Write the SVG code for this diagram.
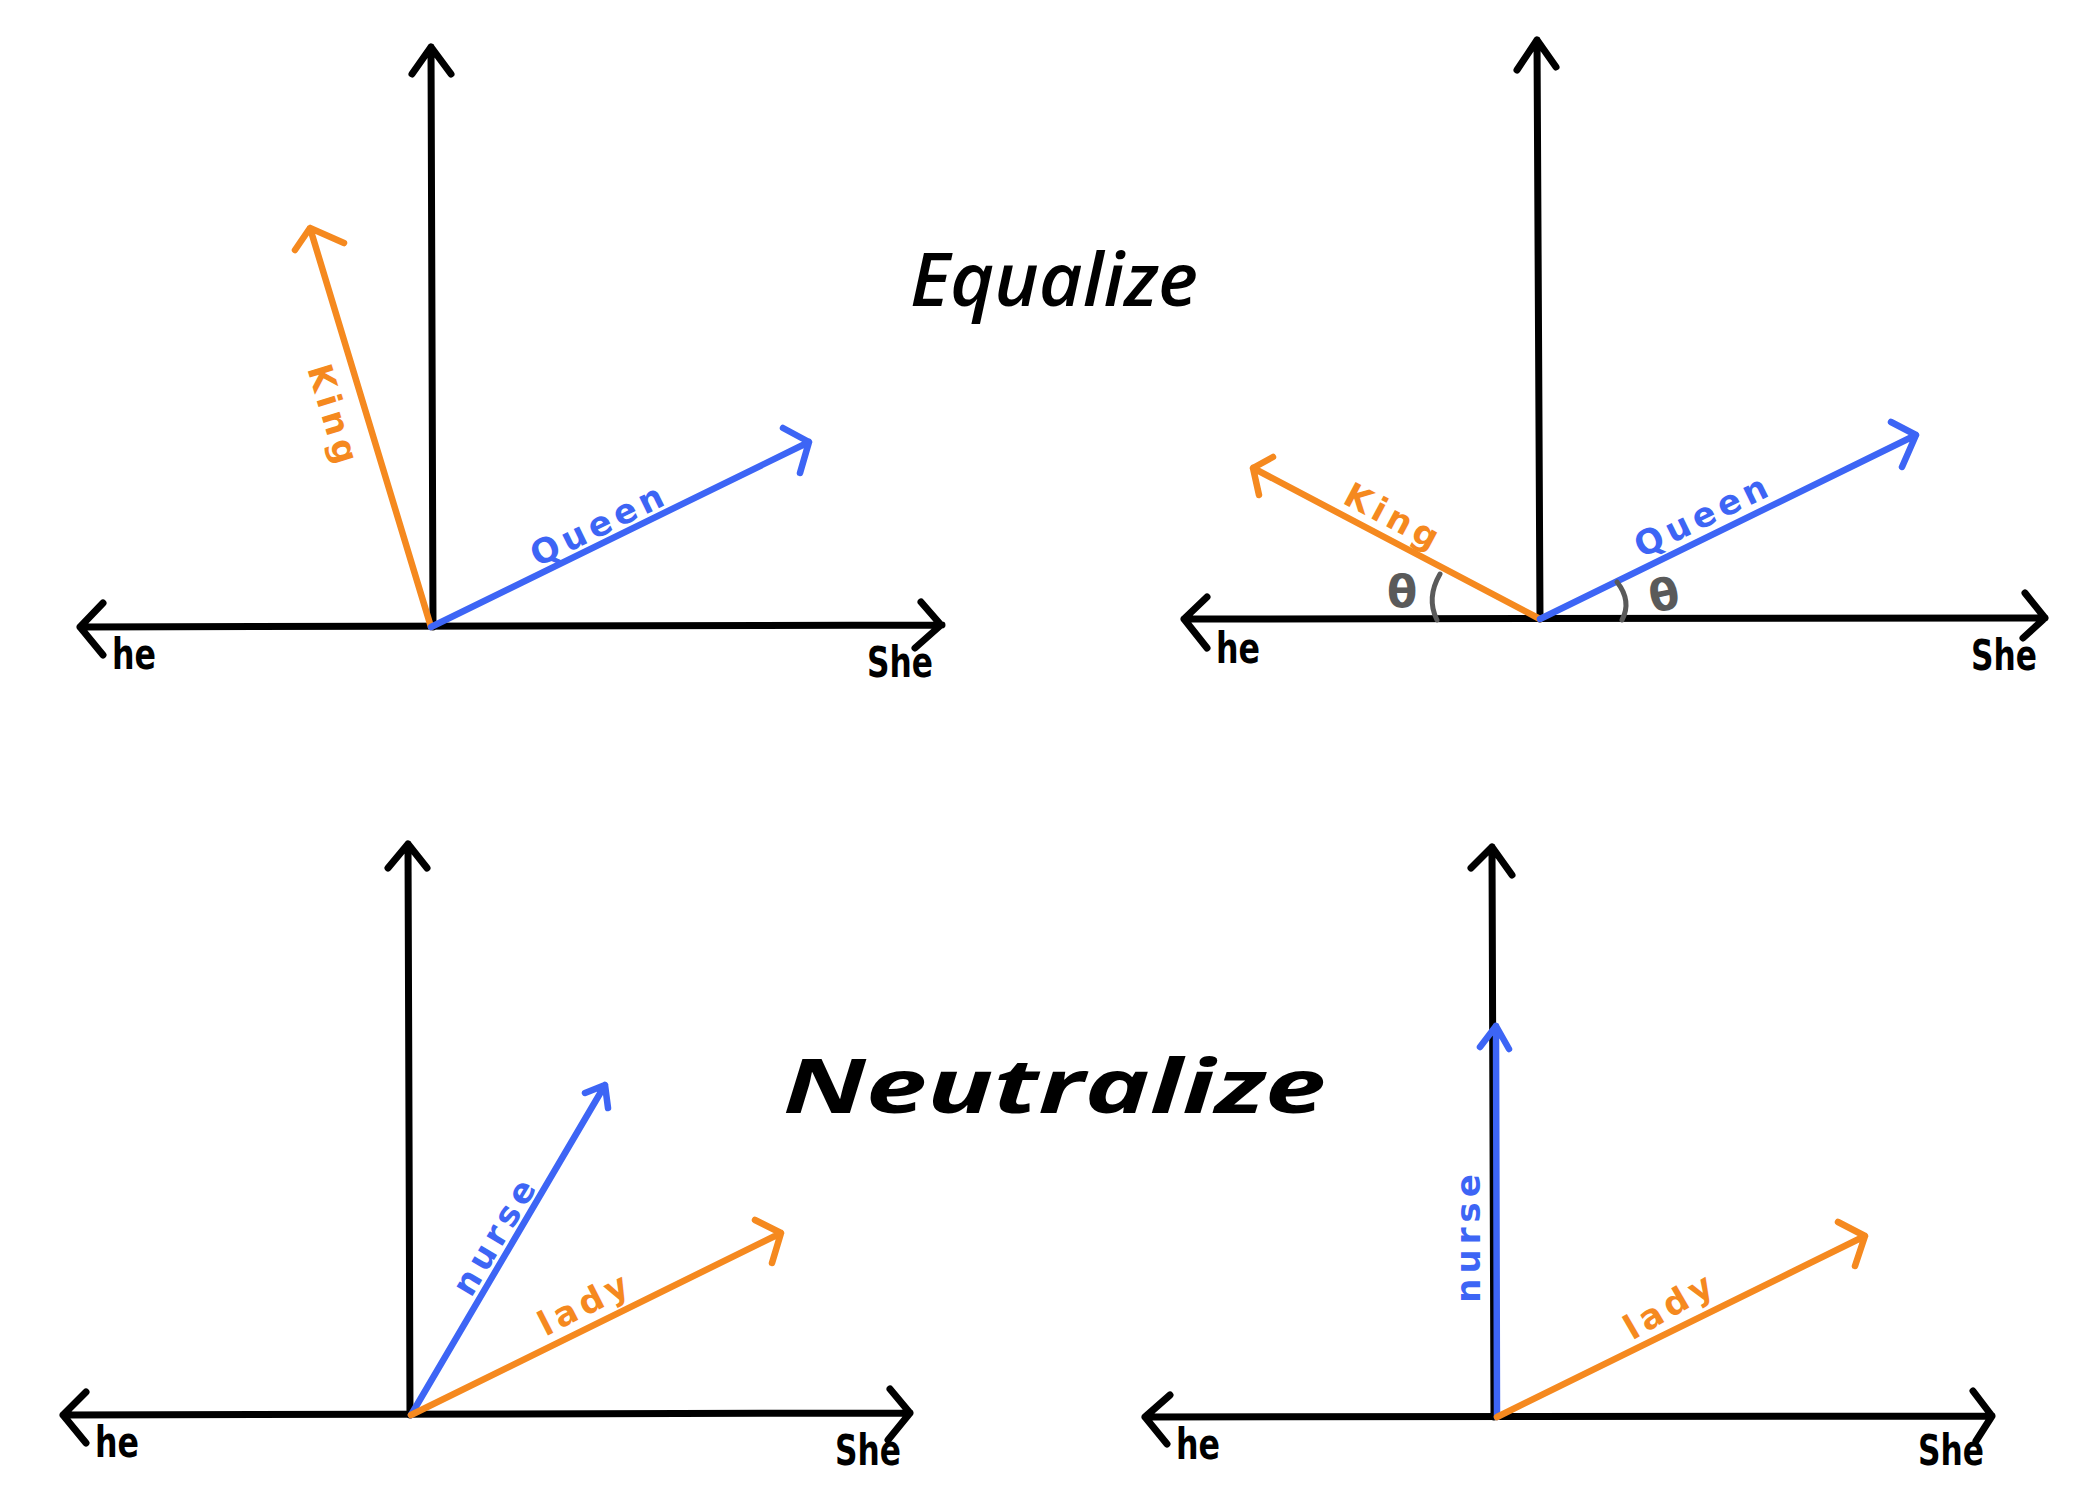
<svg xmlns="http://www.w3.org/2000/svg" width="2100" height="1500" viewBox="0 0 2100 1500">
<style>
.ax{fill:none;stroke:#000;stroke-width:7;stroke-linecap:round;stroke-linejoin:round}
.or{fill:none;stroke:#F5891F;stroke-width:6.5;stroke-linecap:round;stroke-linejoin:round}
.bl{fill:none;stroke:#3D65F5;stroke-width:6.5;stroke-linecap:round;stroke-linejoin:round}
.arc{fill:none;stroke:#5A5A5A;stroke-width:5;stroke-linecap:round}
.lab{font-family:"DejaVu Sans",sans-serif;font-weight:bold;font-size:34px;letter-spacing:5px;text-anchor:middle;dominant-baseline:central}
.lo{fill:#F5891F}
.lb{fill:#3D65F5}
.hs{font-family:"DejaVu Sans",sans-serif;font-weight:bold;font-size:42px;fill:#000}
.th{font-family:"DejaVu Sans",sans-serif;font-weight:bold;font-size:44px;fill:#5A5A5A;text-anchor:middle;dominant-baseline:central}
.title{font-family:"Open Sans","Noto Sans",sans-serif;font-style:italic;fill:#000}
</style>
<rect width="2100" height="1500" fill="#fff"/>

<g id="title-equalize"><text class="title" x="910" y="306" font-size="74" font-weight="600" textLength="288" lengthAdjust="spacingAndGlyphs">Equalize</text></g>
<g id="title-neutralize"><text class="title" x="783" y="1113" font-size="76" font-weight="bold" textLength="543" lengthAdjust="spacingAndGlyphs">Neutralize</text></g>

<g id="connectors">
  <!-- top-left -->
  <g id="tl-axes">
    <path class="ax" d="M80,627 L942,625 M103,603 L80,627 L103,655 M921,602 L941,625 L915,648"/>
    <path class="ax" d="M433,627 L431,47 M412,74 L431,47 L451,74"/>
  </g>
  <path id="tl-king" class="or" d="M431,627 L310,228 M295,250 L310,228 L344,243"/>
  <path id="tl-queen" class="bl" d="M431,627 L809,442 M783,428 L809,442 L800,473"/>
  <!-- top-right -->
  <g id="tr-axes">
    <path class="ax" d="M1184,619 L2045,618 M1207,597 L1184,619 L1207,648 M2025,593 L2045,618 L2023,638"/>
    <path class="ax" d="M1540,619 L1537,40 M1517,70 L1537,40 L1556,67"/>
  </g>
  <path id="tr-king" class="or" d="M1540,619 L1253,468 M1273,457 L1253,468 L1259,495"/>
  <path id="tr-queen" class="bl" d="M1540,619 L1916,435 M1891,422 L1916,435 L1902,467"/>
  <path class="arc" d="M1440,574 Q1426,598 1437,620"/>
  <path class="arc" d="M1617,582 Q1632,601 1622,620"/>
  <!-- bottom-left -->
  <g id="bl-axes">
    <path class="ax" d="M63,1415 L910,1413 M86,1392 L63,1415 L86,1443 M890,1389 L910,1413 L888,1440"/>
    <path class="ax" d="M410,1415 L408,844 M388,868 L408,844 L427,868"/>
  </g>
  <path id="bl-nurse" class="bl" d="M411,1415 L605,1085 M585,1093 L605,1085 L608,1108"/>
  <path id="bl-lady" class="or" d="M411,1415 L781,1233 M755,1220 L781,1233 L772,1263"/>
  <!-- bottom-right -->
  <g id="br-axes">
    <path class="ax" d="M1145,1417 L1992,1416 M1170,1395 L1145,1417 L1167,1444 M1973,1391 L1992,1416 L1976,1441"/>
    <path class="ax" d="M1494,1417 L1492,847 M1471,868 L1492,847 L1512,875"/>
  </g>
  <path id="br-nurse" class="bl" d="M1497,1417 L1496,1026 M1480,1047 L1496,1026 L1509,1049"/>
  <path id="br-lady" class="or" d="M1497,1417 L1865,1236 M1838,1222 L1865,1236 L1855,1266"/>
</g>

<g id="labels-tl">
  <text class="lab lo" transform="translate(334,416) rotate(73)">King</text>
  <text class="lab lb" transform="translate(599,524) rotate(-26)">Queen</text>
  <text class="hs" x="112" y="669" textLength="44" lengthAdjust="spacingAndGlyphs">he</text>
  <text class="hs" x="867" y="677" font-size="38" textLength="66" lengthAdjust="spacingAndGlyphs">She</text>
</g>
<g id="labels-tr">
  <text class="lab lo" transform="translate(1394,517) rotate(28)">King</text>
  <text class="lab lb" transform="translate(1703,515) rotate(-26)">Queen</text>
  <text class="th" x="1402" y="591">θ</text>
  <text class="th" transform="translate(1664,595) rotate(-12)">θ</text>
  <text class="hs" x="1216" y="663" textLength="44" lengthAdjust="spacingAndGlyphs">he</text>
  <text class="hs" x="1971" y="670" font-size="38" textLength="66" lengthAdjust="spacingAndGlyphs">She</text>
</g>
<g id="labels-bl">
  <text class="lab lb" transform="translate(495,1235) rotate(-59)">nurse</text>
  <text class="lab lo" transform="translate(585,1303) rotate(-27)">lady</text>
  <text class="hs" x="95" y="1457" textLength="44" lengthAdjust="spacingAndGlyphs">he</text>
  <text class="hs" x="835" y="1465" font-size="38" textLength="66" lengthAdjust="spacingAndGlyphs">She</text>
</g>
<g id="labels-br">
  <text class="lab lb" transform="translate(1468,1236) rotate(-90)">nurse</text>
  <text class="lab lo" transform="translate(1670,1305) rotate(-30)">lady</text>
  <text class="hs" x="1176" y="1459" textLength="44" lengthAdjust="spacingAndGlyphs">he</text>
  <text class="hs" x="1918" y="1465" font-size="38" textLength="66" lengthAdjust="spacingAndGlyphs">She</text>
</g>
</svg>
